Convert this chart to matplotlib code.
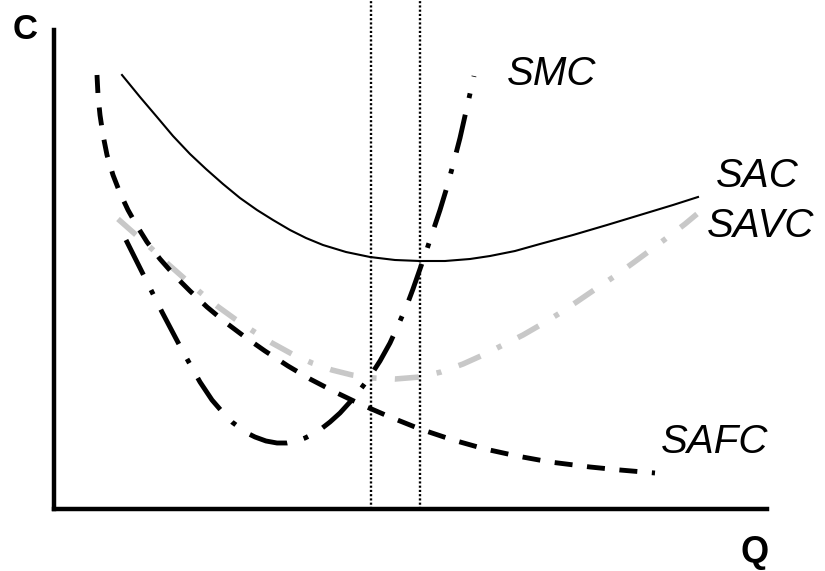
import matplotlib
matplotlib.use("Agg")
import matplotlib.pyplot as plt

plt.rcParams['font.family'] = ['Liberation Sans', 'DejaVu Sans']

# curve data (Q, C)
sac_q = [68, 86, 103, 119, 136, 152, 169, 186, 203, 219, 236, 252, 269, 292, 316, 341, 366, 391,
         416, 436, 461, 486, 519, 553, 586, 619, 644]
sac_c = [434, 412, 392, 373, 355, 340, 325, 311, 299, 289, 279, 271, 264, 257, 252, 249, 248, 248,
         250, 253, 258, 265, 274, 284, 294, 304, 312]

savc_q = [64, 81, 98, 114, 131, 147, 163, 181, 199, 218, 238, 258, 278, 298, 319, 341, 366, 387,
          409, 429, 449, 469, 488, 506, 524, 543, 561, 579, 598, 614, 631, 643]
savc_c = [290, 275, 260, 245, 230, 216, 203, 190, 178, 166, 155, 146, 139, 134, 131, 130, 132, 137,
          145, 154, 164, 174, 185, 196, 208, 221, 233, 246, 260, 272, 285, 295]

safc_q = [43, 44, 46, 49, 53, 59, 66, 74, 83, 93, 106, 121, 136, 153, 171, 191, 211, 234, 256, 281,
          306, 336, 366, 399, 431, 463, 496, 536, 566, 601]
safc_c = [434, 414, 394, 374, 354, 334, 316, 299, 283, 267, 250, 233, 218, 202, 187, 172, 158, 143,
          130, 117, 105, 92, 80, 69, 60, 53, 47, 42, 39, 36]

smc_q = [72, 82, 91, 100, 108, 118, 128, 137, 146, 158, 171, 178, 186, 193, 201, 212, 223, 233,
         243, 251, 259, 267, 276, 286, 296, 306, 315, 326, 336, 346, 353, 359, 366, 373, 379, 386,
         393, 399, 406, 413, 420]
smc_c = [269, 249, 231, 213, 197, 178, 159, 143, 127, 109, 94, 87, 81, 76, 72, 68, 66, 66,
         68, 71, 75, 80, 87, 96, 107, 119, 131, 148, 166, 188, 204, 220, 240, 260, 278, 299,
         322, 344, 371, 402, 433]

# quantities where SMC cuts SAVC and SAC minimums
q_marks = [317, 366]

W, H = 825, 571
fig = plt.figure(figsize=(W / 100, H / 100), dpi=100)
ax = fig.add_axes([54 / W, (H - 509) / H, (767 - 54) / W, 509 / H])
ax.set_xlim(0, 713)
ax.set_ylim(0, 509)

ax.plot(sac_q, sac_c, color='black', lw=1.5)
ax.plot(savc_q, savc_c, color='#c8c8c8', lw=4, dashes=(4.3, 3.3, 0.9, 3.3))
ax.plot(safc_q, safc_c, color='black', lw=3.5, dashes=(3.7, 3))
ax.plot(smc_q, smc_c, color='black', lw=3.5, dashes=(8, 3.5, 1, 3.5))

for q in q_marks:
    ax.axvline(q, color='black', lw=1.7, linestyle=(0, (0.9, 0.9)))

for side in ['top', 'right']:
    ax.spines[side].set_visible(False)
ax.spines['left'].set_linewidth(3.2)
ax.spines['bottom'].set_linewidth(3.2)
ax.spines['left'].set_bounds(0, 479)
ax.set_xticks([])
ax.set_yticks([])


def px(x, y):
    return x / W, 1 - y / H


fig.text(*px(25, 39), 'C', fontsize=25, fontweight='bold', ha='center', va='baseline')
fig.text(*px(755, 562), 'Q', fontsize=26, fontweight='bold', ha='center', va='baseline')
fig.text(*px(507, 85), 'SMC', fontsize=29, style='italic', ha='left', va='baseline')
fig.text(*px(716, 187), 'SAC', fontsize=29, style='italic', ha='left', va='baseline')
fig.text(*px(707, 237), 'SAVC', fontsize=29, style='italic', ha='left', va='baseline')
fig.text(*px(661, 453), 'SAFC', fontsize=29, style='italic', ha='left', va='baseline')

fig.savefig('out.png', dpi=100)
